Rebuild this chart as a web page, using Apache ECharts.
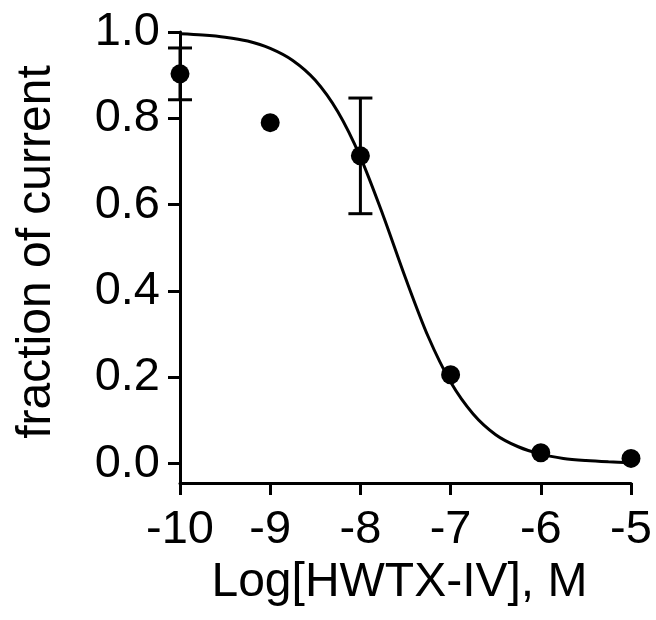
<!DOCTYPE html>
<html>
<head>
<meta charset="utf-8">
<script src="https://cdn.jsdelivr.net/npm/echarts@6/dist/echarts.min.js"></script>
<style>
html,body{margin:0;padding:0;background:#fff;}
#chart{width:656px;height:620px;}
</style>
</head>
<body>
<div id="chart"></div>
<script>
// Measured points (log concentration, fraction of current, error)
const logConc = [-10, -9, -8, -7, -6, -5];
const fraction = [0.903, 0.79, 0.713, 0.206, 0.025, 0.012];
const errorSEM = [0.06, 0, 0.134, 0, 0, 0];

// Fitted curve
const curveX = [-10, -9.75, -9.5, -9.25, -9, -8.75, -8.5, -8.25, -8, -7.75, -7.5, -7.25, -7, -6.75, -6.5, -6.25, -6, -5.75, -5.5, -5.25, -5];
const curveY = [0.996, 0.993, 0.988, 0.979, 0.962, 0.934, 0.888, 0.815, 0.710, 0.576, 0.430, 0.295, 0.189, 0.115, 0.067, 0.039, 0.022, 0.012, 0.007, 0.004, 0.002];

const yTicks = [0, 0.2, 0.4, 0.6, 0.8, 1.0];
const xLabel = 'Log[HWTX-IV], M';
const yLabel = 'fraction of current';

const FONT = '"Liberation Sans", Arial, sans-serif';
const chart = echarts.init(document.getElementById('chart'), null, {renderer: 'canvas'});

const pts = logConc.map((x, i) => [x, fraction[i]]);
const errData = logConc.map((x, i) => [x, fraction[i], errorSEM[i]]);
const curve = curveX.map((x, i) => [x, curveY[i]]);

chart.setOption({
  animation: false,
  backgroundColor: '#fff',
  grid: {left: 180, right: 25, top: 32, bottom: 137, containLabel: false, outerBoundsMode: 'none'},
  xAxis: {
    type: 'value', min: -10, max: -5, interval: 1,
    name: xLabel, nameLocation: 'middle', nameGap: 70,
    nameTextStyle: {fontFamily: FONT, fontSize: 48, color: '#000', padding: [0, 12, 0, 0]},
    axisLine: {show: true, onZero: false, lineStyle: {color: '#000', width: 3}},
    axisTick: {show: true, length: 12, lineStyle: {color: '#000', width: 3}},
    axisLabel: {fontFamily: FONT, fontSize: 47, color: '#000', margin: 24},
    splitLine: {show: false}
  },
  yAxis: {
    type: 'value', min: -0.045, max: 1.0,
    name: yLabel, nameLocation: 'middle', nameGap: 119,
    nameTextStyle: {fontFamily: FONT, fontSize: 48, color: '#000', padding: [0, 0, 0, 11]},
    axisLine: {show: true, onZero: false, lineStyle: {color: '#000', width: 3}},
    axisTick: {show: true, length: 12, customValues: yTicks, lineStyle: {color: '#000', width: 3}},
    axisLabel: {fontFamily: FONT, fontSize: 47, color: '#000', margin: 20, customValues: yTicks,
      formatter: v => v.toFixed(1)},
    splitLine: {show: false}
  },
  series: [
    {
      type: 'line', data: curve, smooth: 0.3, showSymbol: false, symbol: 'none',
      lineStyle: {color: '#000', width: 3}, z: 2, clip: false
    },
    {
      type: 'custom', data: errData, z: 3, clip: false,
      renderItem: function (params, api) {
        const x = api.value(0), y = api.value(1), e = api.value(2);
        if (!e) return null;
        const top = api.coord([x, y + e]);
        const bot = api.coord([x, y - e]);
        const hw = 12;
        const st = {stroke: '#000', lineWidth: 3};
        return {
          type: 'group',
          children: [
            {type: 'line', shape: {x1: top[0], y1: top[1], x2: bot[0], y2: bot[1]}, style: st},
            {type: 'line', shape: {x1: top[0] - hw, y1: top[1], x2: top[0] + hw, y2: top[1]}, style: st},
            {type: 'line', shape: {x1: bot[0] - hw, y1: bot[1], x2: bot[0] + hw, y2: bot[1]}, style: st}
          ]
        };
      }
    },
    {
      type: 'scatter', data: pts, symbol: 'circle', symbolSize: 19,
      itemStyle: {color: '#000', opacity: 1}, z: 4, clip: false
    }
  ]
});
</script>
</body>
</html>
